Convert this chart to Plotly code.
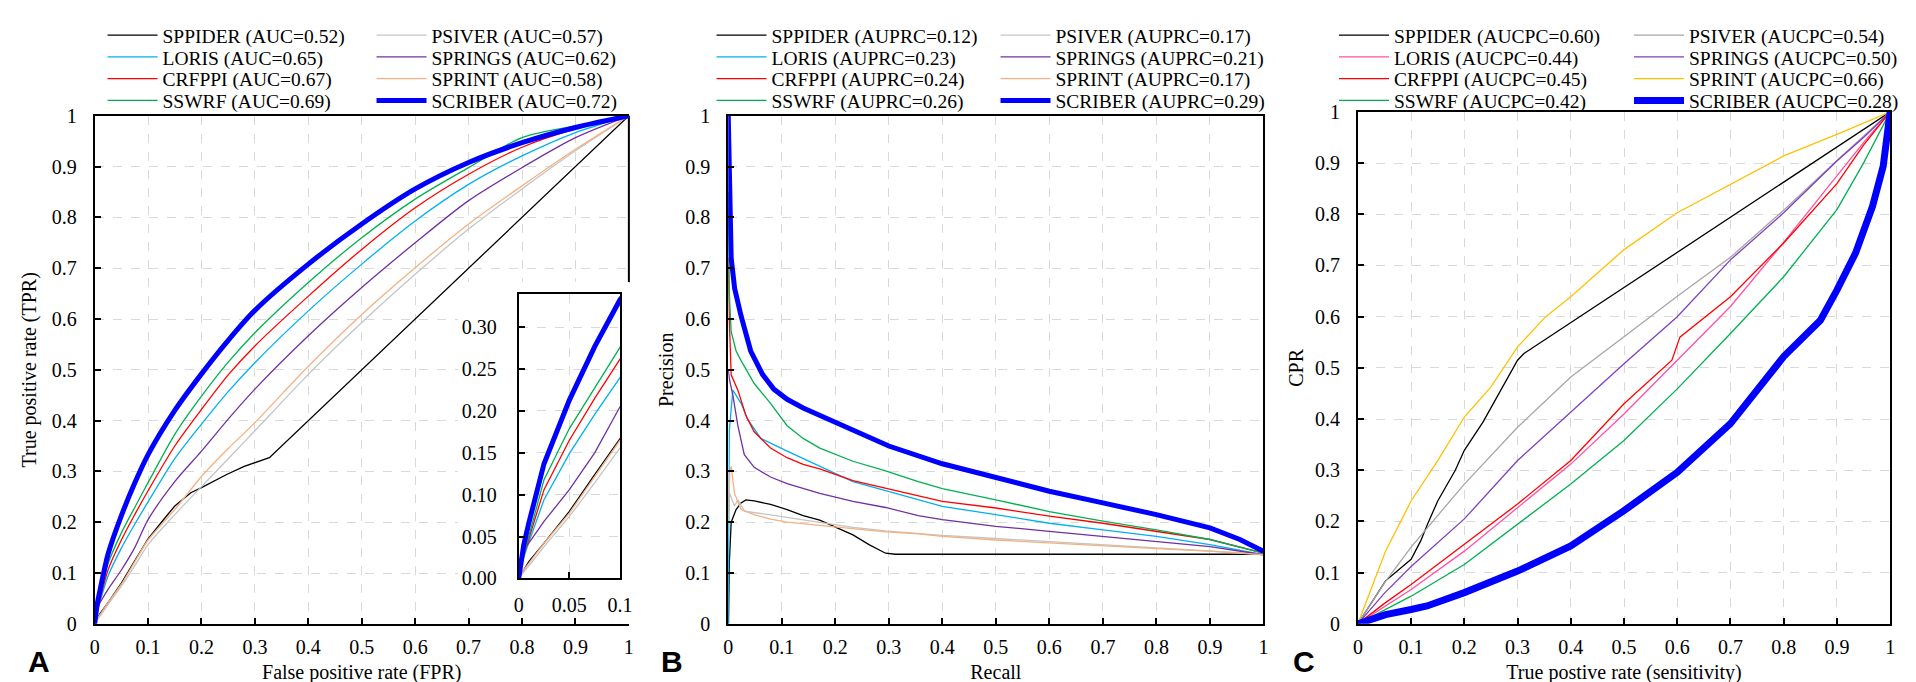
import plotly.graph_objects as go

FONT = "Liberation Serif, Times New Roman, serif"
W, H = 1916, 682

METHODS = ["SPPIDER", "PSIVER", "LORIS", "SPRINGS", "CRFPPI", "SPRINT", "SSWRF", "SCRIBER"]

# ---------------- panel A: ROC ----------------
ROC_AUC = [0.52, 0.57, 0.65, 0.62, 0.67, 0.58, 0.69, 0.72]
ROC_FPR = [0, 0.005, 0.01, 0.025, 0.05, 0.075, 0.1, 0.15, 0.2, 0.25, 0.3, 0.4, 0.5, 0.6, 0.7, 0.8, 0.9, 1.0]
ROC_TPR_PSIVER = [0, 0.008, 0.015, 0.038, 0.074, 0.114, 0.156, 0.215, 0.27, 0.325, 0.38, 0.491, 0.593, 0.688, 0.777, 0.856, 0.931, 1.0]
ROC_TPR_LORIS = [0, 0.025, 0.043, 0.094, 0.149, 0.196, 0.240, 0.325, 0.393, 0.457, 0.514, 0.616, 0.708, 0.793, 0.865, 0.921, 0.967, 1.0]
ROC_TPR_SPRINGS = [0, 0.035, 0.042, 0.068, 0.106, 0.15, 0.205, 0.28, 0.340, 0.403, 0.462, 0.567, 0.662, 0.750, 0.833, 0.898, 0.957, 1.0]
ROC_TPR_CRFPPI = [0, 0.028, 0.047, 0.106, 0.165, 0.215, 0.262, 0.35, 0.422, 0.49, 0.547, 0.645, 0.737, 0.819, 0.885, 0.938, 0.974, 1.0]
ROC_TPR_SPRINT = [0, 0.01, 0.018, 0.042, 0.078, 0.122, 0.165, 0.225, 0.29, 0.345, 0.396, 0.507, 0.609, 0.701, 0.787, 0.862, 0.934, 1.0]
ROC_TPR_SSWRF = [0, 0.03, 0.05, 0.118, 0.179, 0.229, 0.278, 0.373, 0.448, 0.515, 0.573, 0.672, 0.760, 0.836, 0.898, 0.957, 0.980, 1.0]
ROC_TPR_SCRIBER = [0, 0.04, 0.066, 0.137, 0.213, 0.277, 0.333, 0.42, 0.492, 0.558, 0.617, 0.708, 0.787, 0.856, 0.908, 0.947, 0.977, 1.0]
ROC_FPR_SPPIDER = [0, 0.01, 0.025, 0.05, 0.075, 0.1, 0.125, 0.15, 0.18, 0.2, 0.247, 0.28, 0.327, 1.0]
ROC_TPR_SPPIDER = [0, 0.02, 0.042, 0.08, 0.124, 0.167, 0.2, 0.232, 0.258, 0.268, 0.294, 0.31, 0.327, 1.0]

# ---------------- panel B: precision-recall ----------------
PR_AUC = [0.12, 0.17, 0.23, 0.21, 0.24, 0.17, 0.26, 0.29]
PR_REC_SPPIDER = [0.0005, 0.002, 0.0055, 0.0147, 0.024, 0.033, 0.0485, 0.079, 0.11, 0.14, 0.171, 0.202, 0.233, 0.263, 0.294, 0.3125, 1.0]
PR_PREC_SPPIDER = [0.0, 0.12, 0.2, 0.225, 0.238, 0.244, 0.242, 0.235, 0.225, 0.213, 0.204, 0.19, 0.175, 0.156, 0.139, 0.137, 0.137]
PR_REC_PSIVER = [0.0005, 0.0025, 0.0117, 0.018, 0.03, 0.0485, 0.11, 0.171, 0.233, 0.294, 0.355, 0.4, 0.5, 0.6, 0.7, 0.8, 0.9, 1.0]
PR_PREC_PSIVER = [0.22, 0.257, 0.232, 0.244, 0.222, 0.219, 0.21, 0.2, 0.19, 0.183, 0.177, 0.174, 0.168, 0.162, 0.156, 0.15, 0.144, 0.137]
PR_REC_LORIS = [0, 0.0005, 0.002, 0.0086, 0.024, 0.036, 0.061, 0.11, 0.171, 0.233, 0.294, 0.355, 0.4, 0.5, 0.6, 0.7, 0.8, 0.9, 1.0]
PR_PREC_LORIS = [0.0, 0.2, 0.38, 0.46, 0.434, 0.403, 0.365, 0.34, 0.31, 0.28, 0.262, 0.244, 0.231, 0.215, 0.198, 0.185, 0.172, 0.156, 0.136]
PR_REC_SPRINGS = [0, 0.0025, 0.0086, 0.018, 0.03, 0.0485, 0.079, 0.11, 0.171, 0.233, 0.294, 0.355, 0.4, 0.5, 0.6, 0.7, 0.8, 0.9, 1.0]
PR_PREC_SPRINGS = [0.5, 0.48, 0.45, 0.39, 0.333, 0.308, 0.289, 0.276, 0.257, 0.241, 0.229, 0.213, 0.205, 0.192, 0.182, 0.172, 0.162, 0.152, 0.136]
PR_REC_CRFPPI = [0, 0.002, 0.0055, 0.018, 0.033, 0.0485, 0.079, 0.11, 0.14, 0.171, 0.233, 0.294, 0.355, 0.4, 0.5, 0.6, 0.7, 0.8, 0.9, 1.0]
PR_PREC_CRFPPI = [0.72, 0.6, 0.49, 0.46, 0.41, 0.378, 0.346, 0.327, 0.314, 0.305, 0.282, 0.267, 0.251, 0.241, 0.228, 0.212, 0.198, 0.182, 0.166, 0.139]
PR_REC_SPRINT = [0, 0.003, 0.0055, 0.0117, 0.024, 0.0485, 0.079, 0.11, 0.171, 0.233, 0.294, 0.355, 0.4, 0.5, 0.6, 0.7, 0.8, 0.9, 1.0]
PR_PREC_SPRINT = [0.2, 0.3, 0.31, 0.257, 0.225, 0.215, 0.206, 0.2, 0.194, 0.187, 0.181, 0.177, 0.172, 0.165, 0.159, 0.153, 0.148, 0.143, 0.136]
PR_REC_SSWRF = [0, 0.002, 0.0055, 0.0147, 0.024, 0.0485, 0.079, 0.11, 0.14, 0.171, 0.233, 0.294, 0.355, 0.4, 0.5, 0.6, 0.7, 0.8, 0.9, 1.0]
PR_PREC_SSWRF = [0.85, 0.65, 0.575, 0.537, 0.518, 0.473, 0.434, 0.39, 0.365, 0.346, 0.32, 0.301, 0.28, 0.266, 0.244, 0.221, 0.202, 0.185, 0.166, 0.139]
PR_REC_SCRIBER = [0, 0.002, 0.004, 0.0055, 0.012, 0.024, 0.042, 0.064, 0.085, 0.11, 0.14, 0.171, 0.2, 0.25, 0.3, 0.4, 0.5, 0.6, 0.7, 0.8, 0.9, 0.956, 1.0]
PR_PREC_SCRIBER = [1.0, 0.9, 0.8, 0.72, 0.66, 0.606, 0.537, 0.491, 0.462, 0.442, 0.425, 0.41, 0.398, 0.374, 0.35, 0.315, 0.287, 0.261, 0.238, 0.215, 0.189, 0.166, 0.143]

# ---------------- panel C: CPR vs sensitivity ----------------
CPC_AUC = [0.60, 0.54, 0.44, 0.50, 0.45, 0.66, 0.42, 0.28]
CPC_TPR = [0, 0.05, 0.1, 0.2, 0.3, 0.4, 0.5, 0.6, 0.7, 0.8, 0.9, 0.95, 1.0]
CPC_CPR_PSIVER = [0, 0.08, 0.15, 0.273, 0.384, 0.482, 0.561, 0.64, 0.716, 0.808, 0.905, 0.952, 1.0]
CPC_CPR_LORIS = [0, 0.033, 0.067, 0.142, 0.227, 0.312, 0.41, 0.515, 0.62, 0.745, 0.875, 0.94, 1.0]
CPC_CPR_SPRINGS = [0, 0.06, 0.112, 0.205, 0.319, 0.414, 0.508, 0.6, 0.711, 0.803, 0.904, 0.95, 1.0]
CPC_CPR_SSWRF = [0, 0.027, 0.054, 0.116, 0.195, 0.273, 0.358, 0.459, 0.567, 0.678, 0.809, 0.9, 1.0]
CPC_TPR_SPPIDER = [0, 0.052, 0.1, 0.118, 0.131, 0.15, 0.183, 0.2, 0.235, 0.268, 0.3, 0.312, 1.0]
CPC_CPR_SPPIDER = [0, 0.084, 0.126, 0.162, 0.195, 0.24, 0.3, 0.339, 0.394, 0.456, 0.515, 0.528, 1.0]
CPC_TPR_CRFPPI = [0, 0.05, 0.1, 0.2, 0.3, 0.4, 0.5, 0.59, 0.605, 0.7, 0.8, 0.9, 0.95, 1.0]
CPC_CPR_CRFPPI = [0, 0.04, 0.077, 0.156, 0.234, 0.319, 0.43, 0.515, 0.56, 0.639, 0.744, 0.86, 0.935, 1.0]
CPC_TPR_SPRINT = [0, 0.026, 0.052, 0.1, 0.15, 0.2, 0.25, 0.3, 0.353, 0.4, 0.464, 0.5, 0.6, 0.7, 0.8, 0.9, 1.0]
CPC_CPR_SPRINT = [0, 0.07, 0.142, 0.24, 0.319, 0.404, 0.463, 0.541, 0.6, 0.639, 0.698, 0.731, 0.803, 0.858, 0.914, 0.956, 1.0]
CPC_TPR_SCRIBER = [0, 0.052, 0.1, 0.13, 0.2, 0.3, 0.4, 0.5, 0.6, 0.7, 0.8, 0.869, 0.9, 0.935, 0.967, 0.987, 1.0]
CPC_CPR_SCRIBER = [0, 0.018, 0.028, 0.035, 0.061, 0.103, 0.152, 0.221, 0.296, 0.391, 0.522, 0.593, 0.652, 0.724, 0.816, 0.894, 1.0]

COLORS_AB = {"SPPIDER": "#000000", "PSIVER": "#C4C4C4", "LORIS": "#00B0F0", "SPRINGS": "#7030A0",
             "CRFPPI": "#FF0000", "SPRINT": "#F4B183", "SSWRF": "#00B050", "SCRIBER": "#0000FF"}
COLORS_C = {"SPPIDER": "#000000", "PSIVER": "#A6A6A6", "LORIS": "#FF4FA7", "SPRINGS": "#7F3FBF",
            "CRFPPI": "#FF0000", "SPRINT": "#FFC000", "SSWRF": "#00B050", "SCRIBER": "#0000FF"}

roc_data = {
    "SPPIDER": (ROC_FPR_SPPIDER, ROC_TPR_SPPIDER), "PSIVER": (ROC_FPR, ROC_TPR_PSIVER),
    "LORIS": (ROC_FPR, ROC_TPR_LORIS), "SPRINGS": (ROC_FPR, ROC_TPR_SPRINGS),
    "CRFPPI": (ROC_FPR, ROC_TPR_CRFPPI), "SPRINT": (ROC_FPR, ROC_TPR_SPRINT),
    "SSWRF": (ROC_FPR, ROC_TPR_SSWRF), "SCRIBER": (ROC_FPR, ROC_TPR_SCRIBER),
}
pr_data = {
    "SPPIDER": (PR_REC_SPPIDER, PR_PREC_SPPIDER), "PSIVER": (PR_REC_PSIVER, PR_PREC_PSIVER),
    "LORIS": (PR_REC_LORIS, PR_PREC_LORIS), "SPRINGS": (PR_REC_SPRINGS, PR_PREC_SPRINGS),
    "CRFPPI": (PR_REC_CRFPPI, PR_PREC_CRFPPI), "SPRINT": (PR_REC_SPRINT, PR_PREC_SPRINT),
    "SSWRF": (PR_REC_SSWRF, PR_PREC_SSWRF), "SCRIBER": (PR_REC_SCRIBER, PR_PREC_SCRIBER),
}
cpc_data = {
    "SPPIDER": (CPC_TPR_SPPIDER, CPC_CPR_SPPIDER), "PSIVER": (CPC_TPR, CPC_CPR_PSIVER),
    "LORIS": (CPC_TPR, CPC_CPR_LORIS), "SPRINGS": (CPC_TPR, CPC_CPR_SPRINGS),
    "CRFPPI": (CPC_TPR_CRFPPI, CPC_CPR_CRFPPI), "SPRINT": (CPC_TPR_SPRINT, CPC_CPR_SPRINT),
    "SSWRF": (CPC_TPR, CPC_CPR_SSWRF), "SCRIBER": (CPC_TPR_SCRIBER, CPC_CPR_SCRIBER),
}

# panels: data, auc values, metric label, colours, axes suffix, blue width, smooth?, legend (x start, entrywidth)
PANELS = [
    (roc_data, ROC_AUC, "AUC", COLORS_AB, "", 5, True, (96, 204)),
    (pr_data, PR_AUC, "AUPRC", COLORS_AB, "2", 5, False, (715, 219)),
    (cpc_data, CPC_AUC, "AUCPC", COLORS_C, "3", 7, False, (1348, 230)),
]
LEGEND_ROWS_Y = [17, 39.5, 62, 84.5]

fig = go.Figure()

for p, (data, aucs, metric, colors, sfx, bluew, smooth, _) in enumerate(PANELS):
    for i, m in enumerate(METHODS):
        x, y = data[m]
        leg = p * 4 + i // 2 + 1
        spline = smooth and m != "SPPIDER"
        fig.add_trace(go.Scatter(
            x=x, y=y, mode="lines",
            name=f"{m} ({metric}={aucs[i]:.2f})",
            line=dict(color=colors[m], width=bluew if m == "SCRIBER" else 1.3,
                      shape="spline" if spline else "linear", smoothing=0.8),
            xaxis="x" + sfx, yaxis="y" + sfx,
            legend="legend" if leg == 1 else f"legend{leg}",
        ))

# inset of panel A (zoom on FPR 0-0.1)
for m in METHODS:
    x, y = roc_data[m]
    fig.add_trace(go.Scatter(
        x=x, y=y, mode="lines", showlegend=False,
        line=dict(color=COLORS_AB[m], width=5 if m == "SCRIBER" else 1.3),
        xaxis="x4", yaxis="y4",
    ))

tickfont = dict(family=FONT, size=20, color="black")
titlefont = dict(family=FONT, size=20, color="black")


def base_axis(**kw):
    d = dict(showline=True, linecolor="black", linewidth=2, mirror=True,
             ticks="inside", ticklen=6, tickwidth=1.5, tickcolor="black",
             showgrid=True, gridcolor="#D9D9D9", griddash="dash", gridwidth=1,
             zeroline=False, tickfont=tickfont)
    d.update(kw)
    return d


def px_x(v):
    return v / W


def px_y(v):
    return 1 - v / H


DOM_A = [px_x(83), px_x(626)]
DOM_B = [px_x(727), px_x(1271)]
DOM_C = [px_x(1367), px_x(1908)]
DOM_Y = [px_y(625), px_y(100)]
DOM_YC = [px_y(625), px_y(96)]

xa = dict(range=[0, 1], dtick=0.1, ticklabelstandoff=4, title_standoff=8)
ya = dict(range=[0, 1], dtick=0.1, ticklabelstandoff=12)

fig.update_layout(
    width=W, height=H,
    margin=dict(l=0, r=0, t=0, b=0),
    paper_bgcolor="white", plot_bgcolor="rgba(0,0,0,0)",
    font=dict(family=FONT, size=20, color="black"),
    xaxis=base_axis(domain=DOM_A, anchor="y", title=dict(text="False positive rate (FPR)", font=titlefont), **xa),
    yaxis=base_axis(domain=DOM_Y, anchor="x", mirror=False,
                    title=dict(text="True positive rate (TPR)", font=titlefont, standoff=10), **ya),
    xaxis2=base_axis(domain=DOM_B, anchor="y2", title=dict(text="Recall", font=titlefont), **xa),
    yaxis2=base_axis(domain=DOM_Y, anchor="x2", title=dict(text="Precision", font=titlefont, standoff=6), **ya),
    xaxis3=base_axis(domain=DOM_C, anchor="y3", title=dict(text="True postive rate (sensitivity)", font=titlefont), **xa),
    yaxis3=base_axis(domain=DOM_YC, anchor="x3", title=dict(text="CPR", font=titlefont, standoff=6), **ya),
    xaxis4=base_axis(domain=[px_x(514), px_x(617)], anchor="y4", range=[0, 0.1],
                     tickvals=[0, 0.05, 0.1], ticklabelstandoff=8),
    yaxis4=base_axis(domain=[px_y(578), px_y(284)], anchor="x4", range=[0, 0.34],
                     dtick=0.05, tickformat=".2f", ticklabelstandoff=16),
)

# legends: one horizontal legend per row (two entries each)
for p, panel in enumerate(PANELS):
    x0, entw = panel[7]
    for r, yrow in enumerate(LEGEND_ROWS_Y):
        leg = p * 4 + r + 1
        key = "legend" if leg == 1 else f"legend{leg}"
        fig.update_layout({key: dict(
            x=px_x(x0 - 5), y=px_y(yrow), xanchor="left", yanchor="middle",
            orientation="h", entrywidth=entw, entrywidthmode="pixels", itemwidth=50,
            bgcolor="rgba(0,0,0,0)", borderwidth=0,
            font=dict(family=FONT, size=19.5, color="black"),
        )})

# white area behind the inset (hides main grid) and partial right spine of panel A
fig.add_shape(type="rect", xref="x", yref="y", x0=0.68, x1=1.0, y0=0.03, y1=0.673,
              fillcolor="white", line=dict(width=0), layer="between")
fig.add_shape(type="line", xref="paper", yref="paper", x0=px_x(626), x1=px_x(626),
              y0=px_y(272), y1=px_y(100), line=dict(color="black", width=2), layer="below")

for letter, xpx in [("A", 26), ("B", 670), ("C", 1312)]:
    fig.add_annotation(text=f"<b>{letter}</b>", x=px_x(xpx), y=px_y(664), xref="paper", yref="paper",
                       showarrow=False, xanchor="center", yanchor="middle",
                       font=dict(family="Liberation Sans, Arial, sans-serif", size=30, color="black"))

fig.write_html("out.html")
